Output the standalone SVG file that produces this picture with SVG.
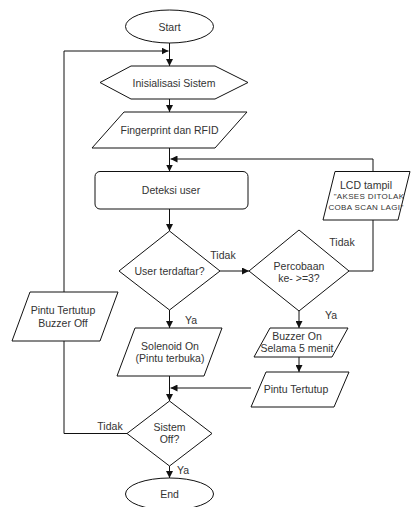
<svg xmlns="http://www.w3.org/2000/svg" width="411" height="507" viewBox="0 0 411 507">
<style>
.s{fill:#fff;stroke:#111;stroke-width:1}
.c{fill:none;stroke:#111;stroke-width:1}
text{font-family:"Liberation Sans",Arial,sans-serif;font-size:10.5px;fill:#333;text-anchor:middle}
.sm{font-size:8px;letter-spacing:0.35px}
</style>
<defs>
<marker id="a" viewBox="0 0 10 10" refX="10" refY="5" markerWidth="7" markerHeight="7" markerUnits="userSpaceOnUse" orient="auto">
<path d="M0,0 L10,5 L0,10 Z" fill="#111"/>
</marker>
</defs>
<rect width="411" height="507" fill="#fff"/>
<g id="connectors">
<path class="c" d="M169.5,43 V66" marker-end="url(#a)"/>
<path class="c" d="M169.5,99 V112" marker-end="url(#a)"/>
<path class="c" d="M169.5,148 V171.5" marker-end="url(#a)"/>
<path class="c" d="M169.5,209 V231" marker-end="url(#a)"/>
<path class="c" d="M220,271 H249" marker-end="url(#a)"/>
<path class="c" d="M349,271 H373 V220"/>
<path class="c" d="M373,171.5 V159 H170.5" marker-end="url(#a)"/>
<path class="c" d="M169.5,310 V328" marker-end="url(#a)"/>
<path class="c" d="M299,311 V328" marker-end="url(#a)"/>
<path class="c" d="M299,357 V372" marker-end="url(#a)"/>
<path class="c" d="M251,388 H170.5" marker-end="url(#a)"/>
<path class="c" d="M169.5,376 V401" marker-end="url(#a)"/>
<path class="c" d="M169.5,466 V478" marker-end="url(#a)"/>
<path class="c" d="M127,433.5 H64 V341"/>
<path class="c" d="M64,292 V51 H168.5" marker-end="url(#a)"/>
<text x="223" y="259">Tidak</text>
<text x="342" y="246">Tidak</text>
<text x="191" y="324">Ya</text>
<text x="331" y="319">Ya</text>
<text x="110" y="430">Tidak</text>
<text x="183" y="474">Ya</text>
</g>
<g id="start">
<ellipse class="s" cx="169.5" cy="26.5" rx="44" ry="16.5"/>
<text x="169.5" y="30.5">Start</text>
</g>
<g id="inisialisasi">
<polygon class="s" points="100,82.5 131,66 215,66 248,82.5 215,99 131,99"/>
<text x="174" y="86.5">Inisialisasi Sistem</text>
</g>
<g id="fingerprint">
<polygon class="s" points="124,112 247,112 215,148 92,148"/>
<text x="169.5" y="133.5">Fingerprint dan RFID</text>
</g>
<g id="deteksi">
<rect class="s" x="95" y="171.5" width="153" height="37.5" rx="5"/>
<text x="171" y="194">Deteksi user</text>
</g>
<g id="user-terdaftar">
<polygon class="s" points="169.5,231 220,271 169.5,310 119,271"/>
<text x="169.5" y="275">User terdaftar?</text>
</g>
<g id="percobaan">
<polygon class="s" points="299,230 349,271 299,311 249,271"/>
<text x="299" y="269.5">Percobaan</text>
<text x="299" y="282">ke- &gt;=3?</text>
</g>
<g id="lcd">
<polygon class="s" points="335,171.5 410,171.5 398,220 323,220"/>
<text x="366" y="189">LCD tampil</text>
<text class="sm" x="369" y="199">"AKSES DITOLAK</text>
<text class="sm" x="366" y="210">COBA SCAN LAGI"</text>
</g>
<g id="solenoid">
<polygon class="s" points="135,328 222,328 204,376 117,376"/>
<text x="170" y="350">Solenoid On</text>
<text x="170" y="362">(Pintu terbuka)</text>
</g>
<g id="buzzer-on">
<polygon class="s" points="270,328 348,328 332,357 254,357"/>
<text x="297" y="340">Buzzer On</text>
<text x="297" y="352">Selama 5 menit</text>
</g>
<g id="pintu-tertutup">
<polygon class="s" points="266,372 349,372 334,407 251,407"/>
<text x="296" y="393">Pintu Tertutup</text>
</g>
<g id="pintu-buzzer-off">
<polygon class="s" points="30,292 118,292 100,341 12,341"/>
<text x="63" y="314">Pintu Tertutup</text>
<text x="63" y="327">Buzzer Off</text>
</g>
<g id="sistem-off">
<polygon class="s" points="169.5,401 212,433.5 169.5,466 127,433.5"/>
<text x="169.5" y="431">Sistem</text>
<text x="169.5" y="443">Off?</text>
</g>
<g id="end">
<ellipse class="s" cx="169.5" cy="494" rx="44" ry="16"/>
<text x="169.5" y="498">End</text>
</g>
</svg>
